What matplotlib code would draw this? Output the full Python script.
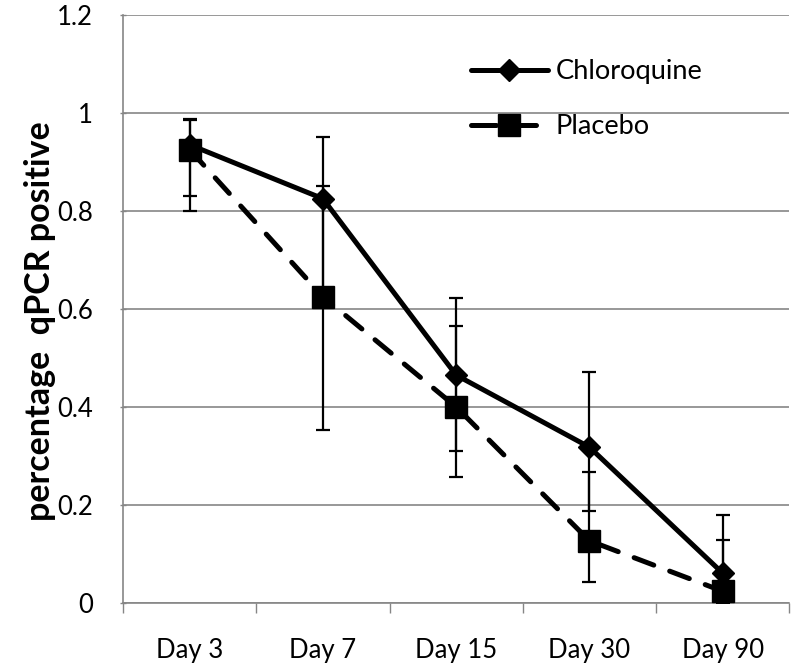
import numpy as np
import matplotlib.pyplot as plt
from matplotlib.ticker import FixedLocator

days = ['Day 3', 'Day 7', 'Day 15', 'Day 30', 'Day 90']

chloroquine = [0.935, 0.825, 0.465, 0.318, 0.061]
chloro_low = [0.83, 0.63, 0.31, 0.188, 0.0]
chloro_high = [0.988, 0.951, 0.622, 0.471, 0.18]

placebo = [0.925, 0.625, 0.40, 0.127, 0.024]
placebo_low = [0.80, 0.353, 0.257, 0.043, 0.0]
placebo_high = [0.985, 0.851, 0.565, 0.267, 0.129]

plt.rcParams['font.family'] = ['Lato', 'DejaVu Sans']

fig = plt.figure(figsize=(7.94, 6.69), dpi=100)
ax = fig.add_axes([0.155, 0.0987, 0.839, 0.879])

x = np.arange(len(days))
grid_col = '#868686'

c = np.array(chloroquine)
p = np.array(placebo)
c_err = [c - np.array(chloro_low), np.array(chloro_high) - c]
p_err = [p - np.array(placebo_low), np.array(placebo_high) - p]

ax.errorbar(x, c, yerr=c_err, fmt='none', ecolor='black', elinewidth=1.6,
            capsize=5, capthick=1.6, zorder=3)
ax.errorbar(x, p, yerr=p_err, fmt='none', ecolor='black', elinewidth=1.6,
            capsize=5, capthick=1.6, zorder=3)

ax.plot(x, c, color='black', lw=3.6, marker='D', markersize=11,
        solid_capstyle='round', label='Chloroquine', zorder=4)
ax.plot(x, p, color='black', lw=3.6, marker='s', markersize=16,
        linestyle=(0, (4.2, 3.4)), dash_capstyle='round',
        label='Placebo', zorder=5)

ax.set_xlim(-0.5, len(days) - 0.5)
ax.set_ylim(0, 1.2)
ax.set_yticks(np.arange(0, 1.21, 0.2))
ax.set_yticklabels(['0', '0.2', '0.4', '0.6', '0.8', '1', '1.2'])
ax.set_xticks(x)
ax.set_xticklabels(days)
ax.xaxis.set_minor_locator(FixedLocator(np.arange(-0.5, len(days), 1.0)))

ax.tick_params(axis='x', which='major', length=0, pad=25, labelsize=18.5)
ax.tick_params(axis='x', which='minor', length=7, width=1, color=grid_col,
               direction='out')
ax.tick_params(axis='y', length=5, width=1, color=grid_col, direction='inout',
               pad=19, labelsize=18.5)

ax.grid(axis='y', color=grid_col, lw=1.2)
ax.set_axisbelow(True)
for s in ['top', 'right']:
    ax.spines[s].set_visible(False)
ax.spines['left'].set_color(grid_col)
ax.spines['bottom'].set_color(grid_col)
ax.spines['left'].set_linewidth(1.2)
ax.spines['bottom'].set_linewidth(1.2)

ax.set_ylabel('percentage  qPCR positive', fontsize=24.5, fontweight='bold')
ax.yaxis.set_label_coords(-0.1, 0.48)

leg = ax.legend(loc='upper left', bbox_to_anchor=(0.485, 0.966), frameon=False,
                fontsize=19.6, handlelength=2.85, labelspacing=1.1,
                handletextpad=0.26)
# legend handle for placebo: dash - square - dash
leg.get_lines()[1].set_linestyle((0, (5, 3)))

fig.savefig('out.png', dpi=100)
